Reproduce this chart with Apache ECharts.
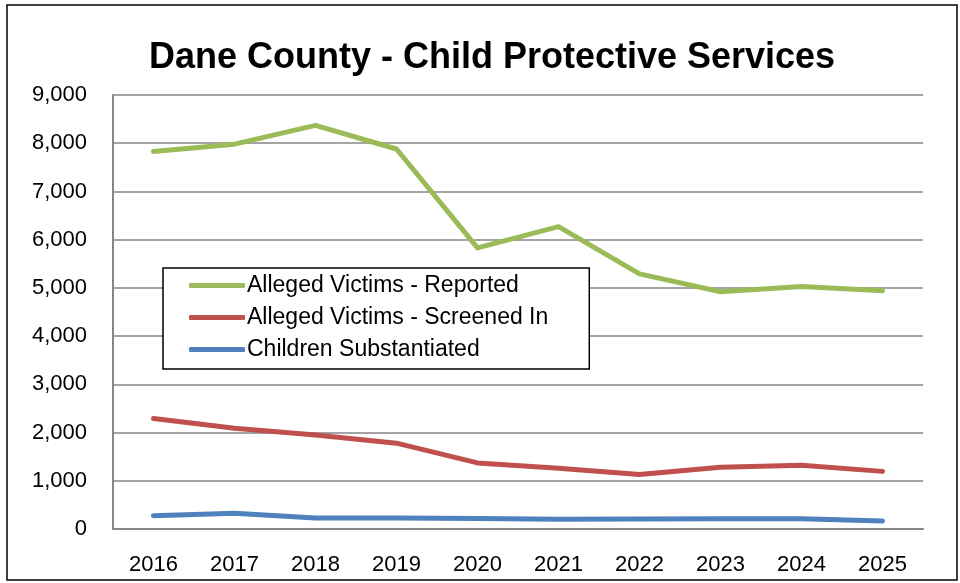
<!DOCTYPE html>
<html><head><meta charset="utf-8">
<script src="https://cdn.jsdelivr.net/npm/echarts@6/dist/echarts.min.js"></script>
<style>html,body{margin:0;padding:0;background:#fff}#c{width:960px;height:583px}</style>
</head><body><div id="c"></div>
<script>
const years = ['2016','2017','2018','2019','2020','2021','2022','2023','2024','2025'];
const reported = [7830, 7980, 8370, 7880, 5830, 6270, 5290, 4920, 5030, 4940];
const screenedIn = [2290, 2090, 1950, 1780, 1370, 1260, 1130, 1280, 1320, 1195];
const substantiated = [275, 325, 228, 228, 220, 200, 207, 214, 212, 166];
const seriesNames = ['Alleged Victims - Reported','Alleged Victims - Screened In','Children Substantiated'];
const colors = ['#9BBB59','#C0504D','#4F81BD'];
const FONT = 'Liberation Sans';
const chart = echarts.init(document.getElementById('c'));
const mk = (name, data, color) => ({
  name, type:'line', data, symbol:'none', smooth:false,
  lineStyle:{color, width:5, cap:'round', join:'round'}, itemStyle:{color}
});
chart.setOption({
  animation:false,
  textStyle:{fontFamily:FONT},
  title:{text:'Dane County - Child Protective Services', left:487, textAlign:'center', top:35,
    textStyle:{fontFamily:FONT, fontWeight:'bold', fontSize:36, color:'#000'}},
  graphic:[{type:'rect', shape:{x:7,y:5,width:950,height:575}, style:{fill:'none', stroke:'#000', lineWidth:1.5}, z:-1}],
  grid:{left:113, right:37, top:95, bottom:54, containLabel:false},
  legend:{left:163, top:268, orient:'vertical', width:425, itemWidth:56, itemHeight:5, itemGap:9,
    padding:[6,41,8,26], borderColor:'#000', borderWidth:1.5, backgroundColor:'#fff',
    icon:'roundRect', textStyle:{fontFamily:FONT, fontSize:23, color:'#000', padding:[0,0,0,-3]},
    data:seriesNames},
  xAxis:{type:'category', data:years, boundaryGap:true,
    axisLine:{lineStyle:{color:'#868686', width:2}}, axisTick:{show:false},
    axisLabel:{fontFamily:FONT, fontSize:22, color:'#000', margin:25}},
  yAxis:{type:'value', min:0, max:9000, interval:1000,
    axisLine:{show:true, lineStyle:{color:'#868686', width:2}}, axisTick:{show:false},
    splitLine:{lineStyle:{color:'#868686', width:1.5}},
    axisLabel:{fontFamily:FONT, fontSize:22, color:'#000', margin:26,
      formatter:v=>v.toLocaleString('en-US')}},
  series:[mk(seriesNames[0], reported, colors[0]), mk(seriesNames[1], screenedIn, colors[1]), mk(seriesNames[2], substantiated, colors[2])]
});
</script></body></html>
